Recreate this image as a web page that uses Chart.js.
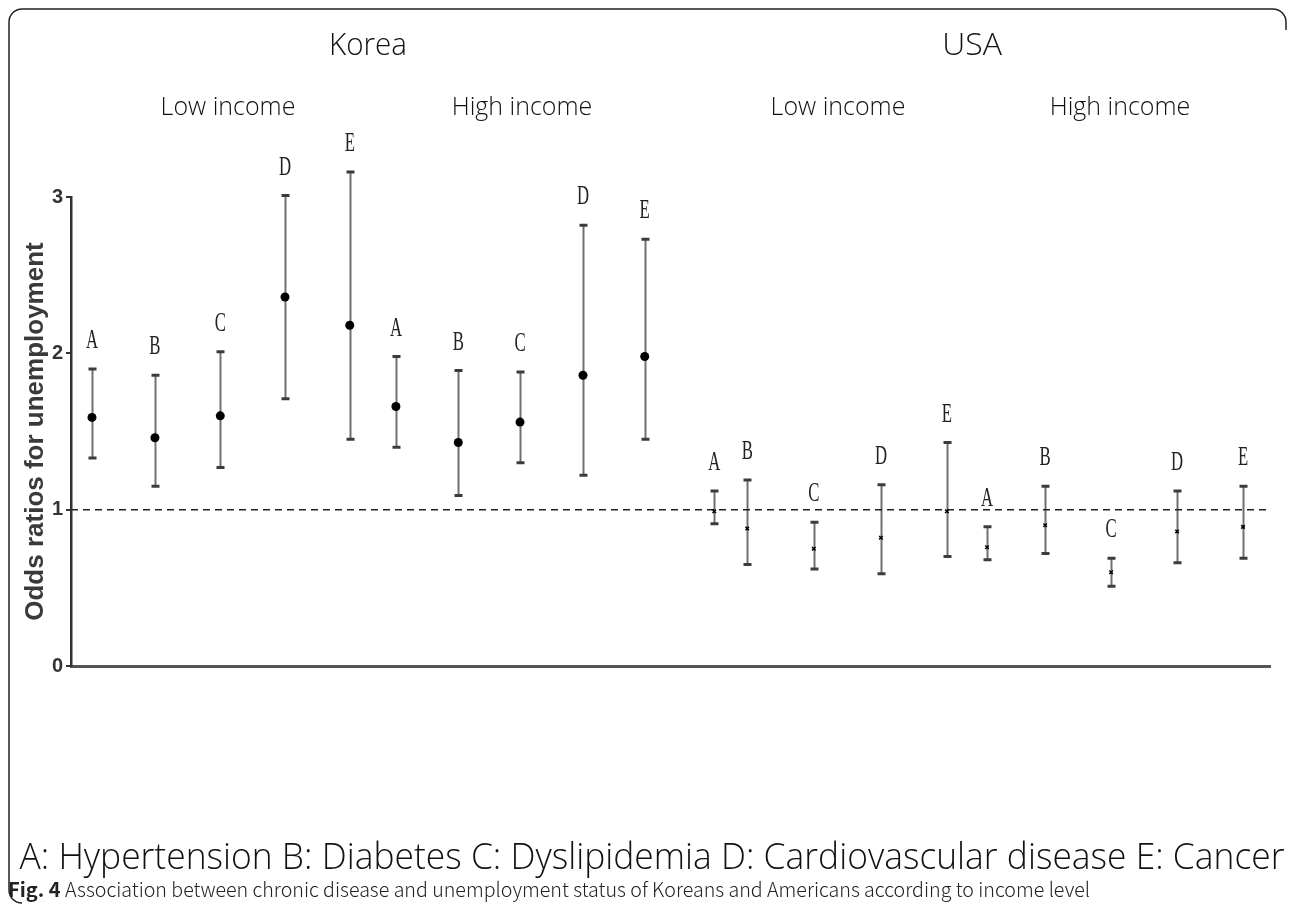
<!DOCTYPE html>
<html>
<head>
<meta charset="utf-8">
<style>
  html, body { margin: 0; padding: 0; background: #fff; }
  #wrap { width: 1292px; height: 904px; }
</style>
<script src="https://cdn.jsdelivr.net/npm/chart.js@4.4.0/dist/chart.umd.min.js"></script>
</head>
<body>
<div id="wrap"><canvas id="chartOdds" width="1292" height="904"></canvas></div>
<script>
// disease letters, same order in every group
let letters = ["A", "B", "C", "D", "E"];

// x slots on a 0-20 axis (groups are not evenly spaced in the figure)
let slotKoreaLow = [0.35, 1.4, 2.49, 3.57, 4.65];
let slotKoreaHigh = [5.42, 6.46, 7.49, 8.54, 9.57];
let slotUsaLow = [10.73, 11.28, 12.39, 13.51, 14.61];
let slotUsaHigh = [15.28, 16.25, 17.35, 18.45, 19.55];

// odds ratios with 95% CI
let orKoreaLow = [1.59, 1.46, 1.6, 2.36, 2.18];
let loKoreaLow = [1.33, 1.15, 1.27, 1.71, 1.45];
let hiKoreaLow = [1.9, 1.86, 2.01, 3.01, 3.16];

let orKoreaHigh = [1.66, 1.43, 1.56, 1.86, 1.98];
let loKoreaHigh = [1.4, 1.09, 1.3, 1.22, 1.45];
let hiKoreaHigh = [1.98, 1.89, 1.88, 2.82, 2.73];

let orUsaLow = [0.99, 0.88, 0.75, 0.82, 0.99];
let loUsaLow = [0.91, 0.65, 0.62, 0.59, 0.7];
let hiUsaLow = [1.12, 1.19, 0.92, 1.16, 1.43];

let orUsaHigh = [0.76, 0.9, 0.6, 0.86, 0.89];
let loUsaHigh = [0.68, 0.72, 0.51, 0.66, 0.69];
let hiUsaHigh = [0.89, 1.15, 0.69, 1.12, 1.15];

let refValue = 1;
let yTicks = [0, 1, 2, 3];

let countries = ["Korea", "USA"];
let incomes = ["Low income", "High income", "Low income", "High income"];
let legendText =
  "A: Hypertension B: Diabetes C: Dyslipidemia D: Cardiovascular disease E: Cancer";
let captionBold = "Fig. 4";
let captionText =
  " Association between chronic disease and unemployment status of Koreans and Americans according to income level";

function points(slots, values) {
  let out = [];
  for (let i = 0; i < slots.length; i++) out.push({ x: slots[i], y: values[i] });
  return out;
}

function groupSet(slots, or, lo, hi, korea) {
  return {
    type: "scatter",
    data: points(slots, or),
    lower: lo,
    upper: hi,
    backgroundColor: "#000",
    borderColor: "#000",
    pointStyle: korea ? "circle" : "crossRot",
    pointRadius: korea ? 4.5 : 2.5,
    borderWidth: korea ? 0 : 1.5,
    clip: false,
  };
}

// error bars under the points, letters above
const errorBars = {
  id: "errorBars",
  beforeDatasetsDraw(chart) {
    const { ctx } = chart;
    const x = chart.scales.x;
    const y = chart.scales.y;
    chart.data.datasets.forEach((ds) => {
      if (!ds.lower) return;
      ds.data.forEach((pt, i) => {
        let px = Math.round(x.getPixelForValue(pt.x)) + 0.5;
        let top = y.getPixelForValue(ds.upper[i]);
        let bot = y.getPixelForValue(ds.lower[i]);
        ctx.save();
        ctx.strokeStyle = "#707070";
        ctx.lineWidth = 2;
        ctx.beginPath();
        ctx.moveTo(px, top);
        ctx.lineTo(px, bot);
        ctx.stroke();
        ctx.strokeStyle = "#3c3c3c";
        ctx.lineWidth = 3;
        ctx.beginPath();
        ctx.moveTo(px - 4, top);
        ctx.lineTo(px + 4, top);
        ctx.moveTo(px - 4, bot);
        ctx.lineTo(px + 4, bot);
        ctx.stroke();
        ctx.restore();
      });
    });
  },
  afterDatasetsDraw(chart) {
    const { ctx } = chart;
    const x = chart.scales.x;
    const y = chart.scales.y;
    chart.data.datasets.forEach((ds) => {
      if (!ds.lower) return;
      ds.data.forEach((pt, i) => {
        let px = x.getPixelForValue(pt.x);
        let top = y.getPixelForValue(ds.upper[i]);
        ctx.save();
        ctx.translate(px, top - 28);
        ctx.scale(0.62, 1);
        ctx.font = "27px 'Liberation Serif'";
        ctx.fillStyle = "#222";
        ctx.textAlign = "center";
        ctx.textBaseline = "middle";
        ctx.fillText(letters[i], 0, 0);
        ctx.restore();
      });
    });
  },
};

// headings, legend line, caption and the frame
const figureText = {
  id: "figureText",
  afterDraw(chart) {
    const { ctx } = chart;
    const sans = "'Noto Sans CJK KR', 'Noto Sans', sans-serif";
    const open = "'Open Sans', 'Noto Sans', sans-serif";
    ctx.save();
    ctx.fillStyle = "#111";
    ctx.textAlign = "center";
    ctx.textBaseline = "middle";

    ctx.font = "300 32px " + open;
    ctx.fillText(countries[0], 368, 46, 78);
    ctx.fillText(countries[1], 972, 46, 62);

    ctx.font = "300 25px " + open;
    ctx.fillText(incomes[0], 228, 108, 140);
    ctx.fillText(incomes[1], 522, 108, 148);
    ctx.fillText(incomes[2], 838, 108, 140);
    ctx.fillText(incomes[3], 1120, 108, 148);

    ctx.font = "300 37px " + open;
    ctx.fillText(legendText, 652, 858, 1265);

    ctx.textAlign = "left";
    ctx.font = "bold 20px " + sans;
    ctx.fillStyle = "#222";
    ctx.fillText(captionBold, 8, 889);
    let w = ctx.measureText(captionBold).width;
    ctx.font = "300 20px " + sans;
    ctx.fillText(captionText, 8 + w, 889, 1090 - 8 - w);

    // frame
    ctx.strokeStyle = "#222";
    ctx.lineWidth = 1.5;
    ctx.beginPath();
    ctx.moveTo(22, 903);
    ctx.arcTo(9, 903, 9, 890, 13);
    ctx.lineTo(9, 22);
    ctx.arcTo(9, 9, 22, 9, 13);
    ctx.lineTo(1273, 9);
    ctx.arcTo(1286, 9, 1286, 22, 13);
    ctx.lineTo(1286, 30);
    ctx.stroke();
    ctx.restore();
  },
};

let datasets = [
  groupSet(slotKoreaLow, orKoreaLow, loKoreaLow, hiKoreaLow, true),
  groupSet(slotKoreaHigh, orKoreaHigh, loKoreaHigh, hiKoreaHigh, true),
  groupSet(slotUsaLow, orUsaLow, loUsaLow, hiUsaLow, false),
  groupSet(slotUsaHigh, orUsaHigh, loUsaHigh, hiUsaHigh, false),
  {
    type: "line",
    data: [
      { x: 0, y: refValue },
      { x: 20, y: refValue },
    ],
    borderColor: "#222",
    borderWidth: 1.5,
    borderDash: [7, 5],
    pointRadius: 0,
    fill: false,
  },
];

let chartCtx = document.getElementById("chartOdds").getContext("2d");

let chartOdds = new Chart(chartCtx, {
  type: "scatter",
  data: { datasets: datasets },
  plugins: [errorBars, figureText],
  options: {
    responsive: false,
    animation: false,
    layout: {
      padding: { left: 10, top: 197, right: 22, bottom: 238 },
    },
    plugins: {
      legend: { display: false },
      tooltip: { enabled: false },
    },
    scales: {
      x: {
        type: "linear",
        min: 0,
        max: 20,
        ticks: { display: false },
        grid: { display: false, drawTicks: false },
        border: { display: true, color: "#555", width: 3 },
        afterFit(scale) {
          scale.height = 0;
        },
      },
      y: {
        min: 0,
        max: 3,
        afterBuildTicks(scale) {
          scale.ticks = yTicks.map((v) => ({ value: v }));
        },
        ticks: {
          color: "#333",
          padding: 3,
          font: { family: "'Liberation Sans', Arial", size: 20, weight: "bold" },
        },
        grid: {
          display: true,
          drawOnChartArea: false,
          drawTicks: true,
          tickLength: 5,
          color: "#333",
          lineWidth: 2,
        },
        border: { display: true, color: "#333", width: 2.5 },
        title: {
          display: true,
          text: "Odds ratios for unemployment",
          color: "#3a3a3a",
          padding: { top: 10, bottom: 0 },
          font: { family: "'Liberation Sans', Arial", size: 26, weight: "bold" },
        },
        afterFit(scale) {
          scale.width = 61;
        },
      },
    },
  },
});
</script>
</body>
</html>
